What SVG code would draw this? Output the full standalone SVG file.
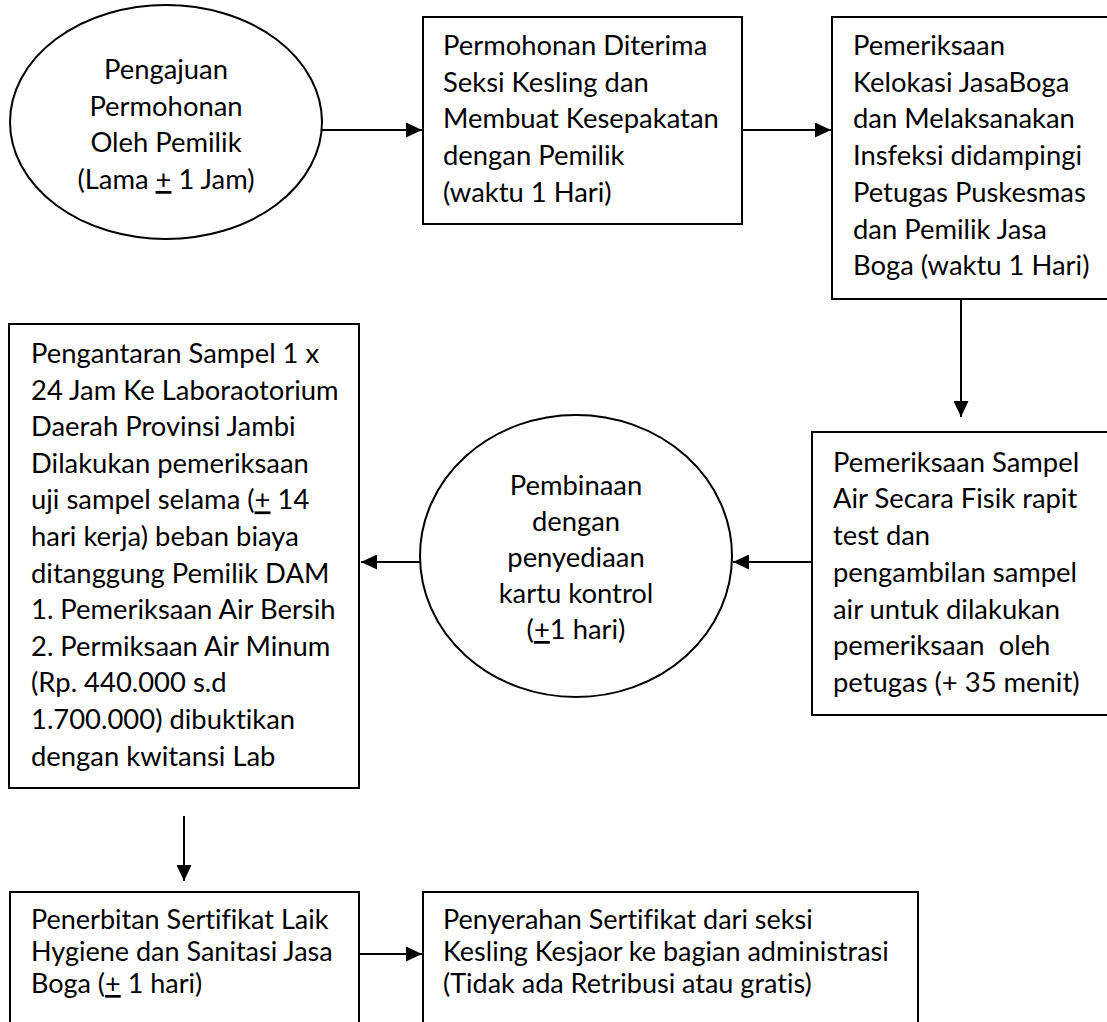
<svg xmlns="http://www.w3.org/2000/svg" width="1107" height="1022" viewBox="0 0 1107 1022">
<style>
.s{fill:#fff;stroke:#000;stroke-width:2}
.t{font-family:Lato,"Liberation Sans",sans-serif;font-size:27.4px;fill:#000;font-variant-ligatures:none}
.b{font-family:Lato,"Liberation Sans",sans-serif;font-size:27px;fill:#000;font-variant-ligatures:none}
.c{text-anchor:middle}
.l{stroke:#000;stroke-width:2;fill:none}
</style>
<defs>
<marker id="ah" markerWidth="16" markerHeight="15" refX="16" refY="7.5" orient="auto" markerUnits="userSpaceOnUse">
<path d="M0,0 L16,7.5 L0,15 Z" fill="#000"/>
</marker>
</defs>
<rect width="1107" height="1022" fill="#fff"/>
<g id="n1">
<ellipse class="s" cx="166" cy="122" rx="156" ry="117"/>
<text class="t c" x="166" y="79">Pengajuan</text>
<text class="t c" x="166" y="115.5">Permohonan</text>
<text class="t c" x="166" y="152">Oleh Pemilik</text>
<text class="t c" x="166" y="189">(Lama <tspan text-decoration="underline">+</tspan> 1 Jam)</text>
</g>
<g id="n2">
<rect class="s" x="423" y="17" width="319" height="207"/>
<text class="t" x="443" y="55">Permohonan Diterima</text>
<text class="t" x="443" y="91.7">Seksi Kesling dan</text>
<text class="t" x="443" y="128.4">Membuat Kesepakatan</text>
<text class="t" x="443" y="165.1">dengan Pemilik</text>
<text class="t" x="443" y="201.8">(waktu 1 Hari)</text>
</g>
<g id="n3">
<rect class="s" x="832" y="17" width="290" height="282"/>
<text class="t" x="853" y="55">Pemeriksaan</text>
<text class="t" x="853" y="91.7">Kelokasi JasaBoga</text>
<text class="t" x="853" y="128.4">dan Melaksanakan</text>
<text class="t" x="853" y="165.1">Insfeksi didampingi</text>
<text class="t" x="853" y="201.8">Petugas Puskesmas</text>
<text class="t" x="853" y="238.5">dan Pemilik Jasa</text>
<text class="t" x="853" y="275.2">Boga (waktu 1 Hari)</text>
</g>
<g id="n4">
<rect class="s" x="812" y="432" width="310" height="283"/>
<text class="t" x="833" y="471.7">Pemeriksaan Sampel</text>
<text class="t" x="833" y="508.4">Air Secara Fisik rapit</text>
<text class="t" x="833" y="545.1">test dan</text>
<text class="t" x="833" y="581.8">pengambilan sampel</text>
<text class="t" x="833" y="618.5">air untuk dilakukan</text>
<text class="t" x="833" y="655.2" xml:space="preserve">pemeriksaan  oleh</text>
<text class="t" x="833" y="691.9">petugas (+ 35 menit)</text>
</g>
<g id="n5">
<ellipse class="s" cx="576" cy="556" rx="156" ry="141"/>
<text class="t c" x="576" y="495">Pembinaan</text>
<text class="t c" x="576" y="531">dengan</text>
<text class="t c" x="576" y="567">penyediaan</text>
<text class="t c" x="576" y="603">kartu kontrol</text>
<text class="t c" x="576" y="639">(<tspan text-decoration="underline">+</tspan>1 hari)</text>
</g>
<g id="n6">
<rect class="s" x="9" y="324" width="350" height="464"/>
<text class="t" x="31" y="363">Pengantaran Sampel 1 x</text>
<text class="t" x="31" y="399.6">24 Jam Ke Laboraotorium</text>
<text class="t" x="31" y="436.2">Daerah Provinsi Jambi</text>
<text class="t" x="31" y="472.8">Dilakukan pemeriksaan</text>
<text class="t" x="31" y="509.4">uji sampel selama (<tspan text-decoration="underline">+</tspan> 14</text>
<text class="t" x="31" y="546">hari kerja) beban biaya</text>
<text class="t" x="31" y="582.6">ditanggung Pemilik DAM</text>
<text class="t" x="31" y="619.2">1. Pemeriksaan Air Bersih</text>
<text class="t" x="31" y="655.8">2. Permiksaan Air Minum</text>
<text class="t" x="31" y="692.4">(Rp. 440.000 s.d</text>
<text class="t" x="31" y="729">1.700.000) dibuktikan</text>
<text class="t" x="31" y="765.6">dengan kwitansi Lab</text>
</g>
<g id="n7">
<rect class="s" x="10" y="892" width="349" height="150"/>
<text class="b" x="31" y="929">Penerbitan Sertifikat Laik</text>
<text class="b" x="31" y="961">Hygiene dan Sanitasi Jasa</text>
<text class="b" x="31" y="993">Boga (<tspan text-decoration="underline">+</tspan> 1 hari)</text>
</g>
<g id="n8">
<rect class="s" x="423" y="892" width="495" height="150"/>
<text class="b" x="443" y="929">Penyerahan Sertifikat dari seksi</text>
<text class="b" x="443" y="961">Kesling Kesjaor ke bagian administrasi</text>
<text class="b" x="443" y="993">(Tidak ada Retribusi atau gratis)</text>
</g>
<g id="connectors">
<line class="l" x1="322" y1="130" x2="422" y2="130" marker-end="url(#ah)"/>
<line class="l" x1="742" y1="130" x2="831" y2="130" marker-end="url(#ah)"/>
<line class="l" x1="961" y1="299" x2="961" y2="417" marker-end="url(#ah)"/>
<line class="l" x1="812" y1="562" x2="733" y2="562" marker-end="url(#ah)"/>
<line class="l" x1="420" y1="562" x2="361" y2="562" marker-end="url(#ah)"/>
<line class="l" x1="184" y1="816" x2="184" y2="881" marker-end="url(#ah)"/>
<line class="l" x1="359" y1="954" x2="422" y2="954" marker-end="url(#ah)"/>
</g>
</svg>
